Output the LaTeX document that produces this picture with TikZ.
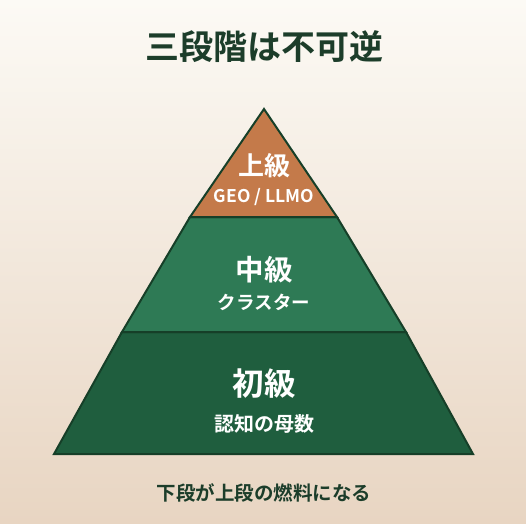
\documentclass[tikz,border=0pt]{standalone}
\usepackage{fontspec}
\newfontfamily\jpsans{Noto Sans CJK JP}[BoldFont={Noto Sans CJK JP Bold}]
\definecolor{bgtop}{HTML}{FCFAF5}
\definecolor{bgbot}{HTML}{E8D5C2}
\definecolor{tierTop}{HTML}{C47A4A}
\definecolor{tierMid}{HTML}{2E7A55}
\definecolor{tierLow}{HTML}{1F5E3E}
\definecolor{edge}{HTML}{163F28}
\definecolor{titlecol}{HTML}{1C3D2A}
\tikzset{
  tier/.style={draw=edge, line width=2pt, line join=miter},
  big/.style={text=white, inner sep=0pt, font=\jpsans\bfseries},
  small/.style={text=white, inner sep=0pt, font=\jpsans\bfseries},
}
\begin{document}
\begin{tikzpicture}[x=1pt,y=-1pt]
\shade[top color=bgtop, bottom color=bgbot] (0,0) rectangle (526,523);
\useasboundingbox (0,0) rectangle (526,523);
% tiers
\coordinate (apex) at (264,109);
\coordinate (tl) at (190,217); \coordinate (tr) at (337,217);
\coordinate (ml) at (122,332); \coordinate (mr) at (406,332);
\coordinate (bl) at (54,454);  \coordinate (br) at (473,454);
\draw[tier, fill=tierLow] (ml) -- (mr) -- (br) -- (bl) -- cycle;
\draw[tier, fill=tierMid] (tl) -- (tr) -- (mr) -- (ml) -- cycle;
\draw[tier, fill=tierTop] (apex) -- (tr) -- (tl) -- cycle;
% texts
\node[inner sep=0pt, text=titlecol, font=\jpsans\bfseries\fontsize{34}{36}\selectfont] (title) at (264,47) {三段階は不可逆};
\node[big, font=\jpsans\bfseries\fontsize{26}{28}\selectfont] (t1) at (264,166) {上級};
\node[small, font=\jpsans\bfseries\fontsize{17.5}{19}\selectfont] (s1) at (264,197.5) {GEO / LLMO};
\node[big, font=\jpsans\bfseries\fontsize{28.5}{30}\selectfont] (t2) at (264,270) {中級};
\node[small, font=\jpsans\bfseries\fontsize{18.5}{20}\selectfont] (s2) at (264,302) {クラスター};
\node[big, font=\jpsans\bfseries\fontsize{31.5}{33}\selectfont] (t3) at (264,384) {初級};
\node[small, font=\jpsans\bfseries\fontsize{20}{22}\selectfont] (s3) at (264,424) {認知の母数};
\node[inner sep=0pt, text=titlecol, font=\jpsans\bfseries\fontsize{19.5}{21}\selectfont] (cap) at (264,493) {下段が上段の燃料になる};
\end{tikzpicture}
\end{document}
